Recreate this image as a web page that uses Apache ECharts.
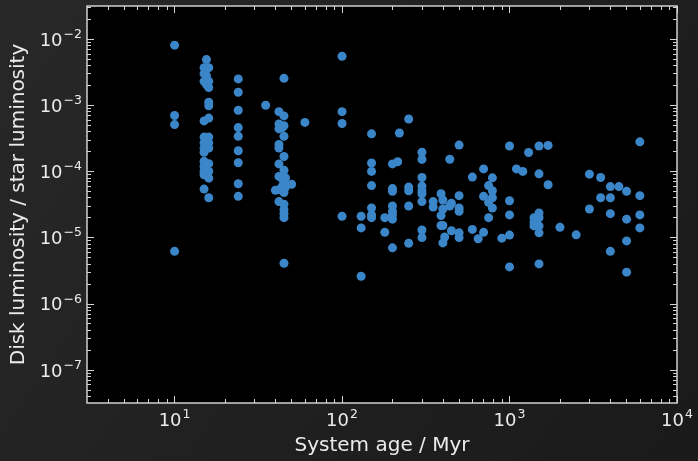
<!DOCTYPE html>
<html>
<head>
<meta charset="utf-8">
<script src="https://cdn.jsdelivr.net/npm/echarts@6/dist/echarts.min.js"></script>
<style>
  html, body { margin: 0; padding: 0; background: #1e1e1e; }
  #chart { width: 698px; height: 461px; }
</style>
</head>
<body>
<div id="chart"></div>
<script>
// System ages (Myr) and the disk/star luminosity ratios observed at each age
const systemAges = [
  10, 15, 15.5, 16, 24, 35, 40, 42, 44, 45, 46, 50, 60,
  100, 130, 150, 180, 200, 215, 220, 250, 300, 350, 390, 400, 410, 440, 450,
  500, 600, 650, 700, 750, 790, 900,
  1000, 1100, 1200, 1300, 1400, 1450, 1500, 1700, 2000, 2500,
  3000, 3500, 4000, 4500, 5000, 6000
];
const luminosityRatios = [
  [8.1e-3, 7.0e-4, 5.1e-4, 6.2e-6],
  [3.7e-3, 3.0e-3, 2.3e-3, 5.8e-4, 3.3e-4, 2.7e-4, 2.25e-4, 1.95e-4, 1.42e-4, 1.19e-4, 1.0e-4, 8.9e-5, 5.4e-5],
  [4.9e-3, 2.8e-3, 2.05e-3, 3.0e-4, 2.4e-4],
  [3.7e-3, 2.3e-3, 1.85e-3, 1.11e-3, 9.8e-4, 6.4e-4, 3.3e-4, 2.7e-4, 2.25e-4, 1.31e-4, 1.0e-4, 7.9e-5, 4.0e-5],
  [2.5e-3, 1.57e-3, 8.4e-4, 4.6e-4, 3.4e-4, 2.05e-4, 1.35e-4, 6.5e-5, 4.2e-5],
  [1.0e-3],
  [5.2e-5],
  [8.0e-4, 5.2e-4, 4.4e-4, 2.55e-4, 2.25e-4, 1.3e-4, 8.4e-5, 5.3e-5, 3.5e-5],
  [7.7e-5, 4.6e-4, 6.0e-5],
  [2.55e-3, 6.9e-4, 4.9e-4, 3.4e-4, 1.68e-4, 1.04e-4, 6.9e-5, 4.8e-5, 3.2e-5, 2.65e-5, 2.3e-5, 2.0e-5, 4.1e-6],
  [5.8e-5, 8.0e-5],
  [6.4e-5],
  [5.5e-4],
  [5.5e-3, 8.0e-4, 5.3e-4, 2.1e-5],
  [2.1e-5, 1.4e-5, 2.6e-6],
  [3.7e-4, 1.34e-4, 1.0e-4, 6.1e-5, 2.8e-5, 2.2e-5, 2.0e-5],
  [2.0e-5, 1.2e-5],
  [1.3e-4, 5.5e-5, 5.0e-5, 3.0e-5, 2.5e-5, 2.2e-5, 1.9e-5, 7.0e-6],
  [1.4e-4],
  [3.8e-4],
  [6.2e-4, 5.8e-5, 5.1e-5, 3.0e-5, 8.2e-6],
  [1.95e-4, 1.52e-4, 8.1e-5, 6.0e-5, 5.1e-5, 4.6e-5, 3.5e-5, 1.3e-5, 1.0e-5],
  [3.5e-5, 2.9e-5],
  [4.6e-5, 2.15e-5, 1.52e-5],
  [3.7e-5, 2.7e-5, 1.52e-5, 8.3e-6],
  [1.02e-5],
  [1.53e-4, 3.0e-5],
  [3.3e-5, 1.27e-5],
  [2.5e-4, 4.3e-5, 2.8e-5, 2.5e-5, 1.18e-5, 1.0e-5],
  [8.2e-5, 1.33e-5],
  [9.6e-6],
  [1.09e-4, 4.2e-5, 1.2e-5],
  [6.1e-5, 3.4e-5, 2.0e-5],
  [8.0e-5, 5.1e-5, 4.0e-5, 2.8e-5],
  [9.8e-6],
  [2.42e-4, 3.6e-5, 2.2e-5, 1.09e-5, 3.6e-6],
  [1.09e-4],
  [1.0e-4],
  [1.93e-4],
  [2.0e-5, 1.7e-5, 1.5e-5],
  [1.8e-5, 1.6e-5],
  [2.42e-4, 9.2e-5, 2.35e-5, 2.0e-5, 1.5e-5, 1.18e-5, 4.0e-6],
  [2.47e-4, 6.3e-5],
  [1.43e-5],
  [1.1e-5],
  [9.1e-5, 2.7e-5],
  [8.1e-5, 4.0e-5],
  [5.9e-5, 4.0e-5, 2.3e-5, 6.2e-6],
  [5.9e-5],
  [5.0e-5, 1.9e-5, 8.9e-6, 3.0e-6],
  [2.8e-4, 4.3e-5, 2.2e-5, 1.4e-5]
];

// Axis ranges and decade tick values
const ageRange = [3, 1e4];
const ratioRange = [Math.pow(10, -7.5), Math.pow(10, -1.5)];
const ageMajorTicks = [10, 100, 1000, 10000];
const ratioMajorTicks = [1e-7, 1e-6, 1e-5, 1e-4, 1e-3, 1e-2];

function minorTicks(range) {
  const out = [];
  const lo = Math.floor(Math.log10(range[0]));
  const hi = Math.ceil(Math.log10(range[1]));
  for (let e = lo; e < hi; e++) {
    for (let m = 2; m <= 9; m++) {
      const v = m * Math.pow(10, e);
      if (v > range[0] * 1.0001 && v < range[1] * 0.9999) out.push(v);
    }
  }
  return out;
}

const scatterData = [];
systemAges.forEach((age, i) => {
  luminosityRatios[i].forEach(r => scatterData.push([age, r]));
});

const FONT = 'DejaVu Sans';
const TEXT = '#ebebeb';
const TICK = '#d4d4d4';

function decadeLabel(v) {
  const e = Math.round(Math.log10(v));
  const s = e < 0 ? '\u2212' + (-e) : String(e);
  return '{b|10}{s|' + s + '}';
}
const labelRich = {
  b: { fontSize: 18, color: TEXT, fontFamily: FONT, lineHeight: 22, verticalAlign: 'bottom' },
  s: { fontSize: 12.5, color: TEXT, fontFamily: FONT, lineHeight: 22, verticalAlign: 'top', padding: [0, 0, 0, 1] }
};

function logAxis(range, position, ticks, len, labels, extra) {
  return Object.assign({
    type: 'log',
    logBase: 10,
    min: range[0],
    max: range[1],
    position: position,
    splitLine: { show: false },
    axisLine: { show: false },
    axisTick: {
      show: true, inside: true, length: len, customValues: ticks,
      lineStyle: { color: TICK, width: 1 }
    },
    axisLabel: labels ? {
      show: true, customValues: ticks, formatter: decadeLabel,
      rich: labelRich, margin: 5
    } : { show: false },
    minorTick: { show: false }
  }, extra || {});
}

const ageMinorTicks = minorTicks(ageRange);
const ratioMinorTicks = minorTicks(ratioRange);

const chart = echarts.init(document.getElementById('chart'), null, { renderer: 'canvas' });
chart.setOption({
  animation: false,
  backgroundColor: {
    type: 'linear', x: 0, y: 0, x2: 1, y2: 1,
    colorStops: [
      { offset: 0, color: '#282828' },
      { offset: 0.6, color: '#1f1f1f' },
      { offset: 1, color: '#1a1a1a' }
    ]
  },
  grid: {
    left: 87, right: 21, top: 6, bottom: 56,
    show: true, backgroundColor: '#000000',
    borderColor: '#d0d0d0', borderWidth: 1.5
  },
  xAxis: [
    logAxis(ageRange, 'bottom', ageMajorTicks, 7, true, {
      name: 'System age / Myr', nameLocation: 'middle', nameGap: 33,
      nameTextStyle: { color: TEXT, fontSize: 20, fontFamily: FONT }
    }),
    logAxis(ageRange, 'bottom', ageMinorTicks, 4, false),
    logAxis(ageRange, 'top', ageMajorTicks, 7, false),
    logAxis(ageRange, 'top', ageMinorTicks, 4, false)
  ],
  yAxis: [
    logAxis(ratioRange, 'left', ratioMajorTicks, 7, true, {
      name: 'Disk luminosity / star luminosity', nameLocation: 'middle', nameGap: 57,
      nameTextStyle: { color: TEXT, fontSize: 20, fontFamily: FONT }
    }),
    logAxis(ratioRange, 'left', ratioMinorTicks, 4, false),
    logAxis(ratioRange, 'right', ratioMajorTicks, 7, false),
    logAxis(ratioRange, 'right', ratioMinorTicks, 4, false)
  ],
  series: [{
    type: 'scatter',
    xAxisIndex: 0,
    yAxisIndex: 0,
    data: scatterData,
    symbol: 'circle',
    symbolSize: 9,
    itemStyle: { color: '#3a86c8', opacity: 1 }
  }]
});
</script>
</body>
</html>
